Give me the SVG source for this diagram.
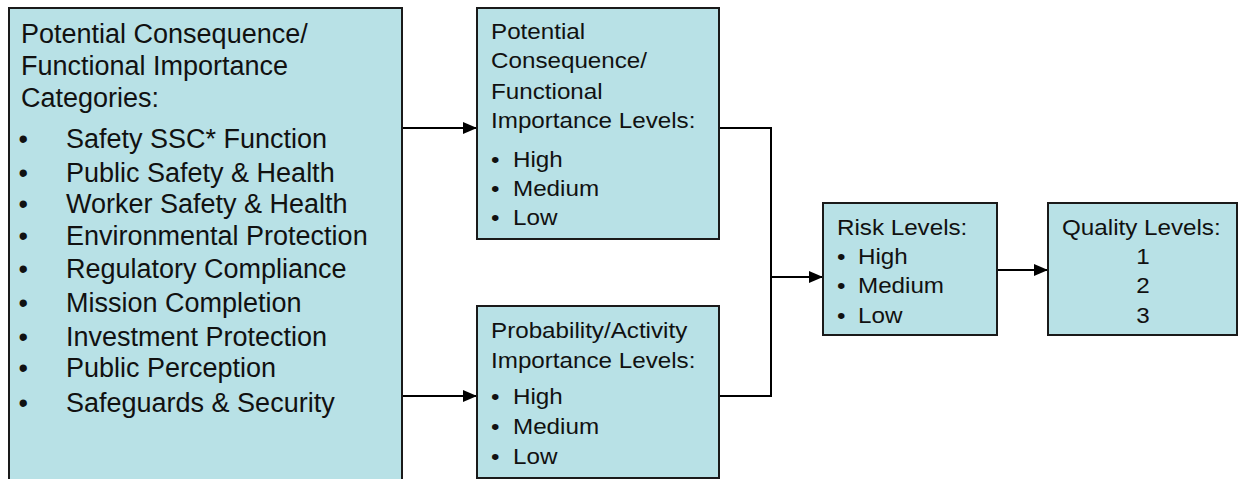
<svg xmlns="http://www.w3.org/2000/svg" width="1239" height="479" viewBox="0 0 1239 479">
<style>
.box{fill:#B8E1E6;stroke:#1a1a1a;stroke-width:2}
.t{font-family:"Liberation Sans",Arial,sans-serif;fill:#111}
.big{font-size:27px}
.sm{font-size:22px}
.c{fill:none;stroke:#000;stroke-width:2}
</style>
<defs>
<marker id="ah" markerWidth="14" markerHeight="12" refX="14" refY="6" orient="auto" markerUnits="userSpaceOnUse">
<path d="M0,0 L14,6 L0,12 Z" fill="#000"/>
</marker>
</defs>
<g id="connectors">
<line class="c" x1="402" y1="128" x2="477" y2="128" marker-end="url(#ah)"/>
<line class="c" x1="402" y1="396" x2="477" y2="396" marker-end="url(#ah)"/>
<polyline class="c" points="719,128 771,128 771,396 719,396"/>
<line class="c" x1="771" y1="277" x2="823" y2="277" marker-end="url(#ah)"/>
<line class="c" x1="997" y1="270" x2="1048" y2="270" marker-end="url(#ah)"/>
</g>
<g id="categories">
<rect class="box" x="9" y="8" width="393" height="490"/>
<g class="t big">
<text x="21" y="43">Potential Consequence/</text>
<text x="21" y="75">Functional Importance</text>
<text x="21" y="107">Categories:</text>
<text x="18.5" y="148">•</text><text x="66" y="148">Safety SSC* Function</text>
<text x="18.5" y="182">•</text><text x="66" y="182">Public Safety &amp; Health</text>
<text x="18.5" y="213">•</text><text x="66" y="213">Worker Safety &amp; Health</text>
<text x="18.5" y="245">•</text><text x="66" y="245">Environmental Protection</text>
<text x="18.5" y="278">•</text><text x="66" y="278">Regulatory Compliance</text>
<text x="18.5" y="312">•</text><text x="66" y="312">Mission Completion</text>
<text x="18.5" y="346">•</text><text x="66" y="346">Investment Protection</text>
<text x="18.5" y="377">•</text><text x="66" y="377">Public Perception</text>
<text x="18.5" y="412">•</text><text x="66" y="412">Safeguards &amp; Security</text>
</g>
</g>
<g id="consequence-levels">
<rect class="box" x="477" y="8" width="242" height="231"/>
<g transform="scale(1.1,1)" class="t sm">
<text x="446.4" y="39">Potential</text>
<text x="446.4" y="68">Consequence/</text>
<text x="446.4" y="99">Functional</text>
<text x="446.4" y="128">Importance Levels:</text>
<text x="446.4" y="167">•</text><text x="466.4" y="167">High</text>
<text x="446.4" y="196">•</text><text x="466.4" y="196">Medium</text>
<text x="446.4" y="225">•</text><text x="466.4" y="225">Low</text>
</g>
</g>
<g id="probability-levels">
<rect class="box" x="477" y="306" width="242" height="172"/>
<g transform="scale(1.1,1)" class="t sm">
<text x="446.4" y="338">Probability/Activity</text>
<text x="446.4" y="368">Importance Levels:</text>
<text x="446.4" y="404">•</text><text x="466.4" y="404">High</text>
<text x="446.4" y="434">•</text><text x="466.4" y="434">Medium</text>
<text x="446.4" y="464">•</text><text x="466.4" y="464">Low</text>
</g>
</g>
<g id="risk-levels">
<rect class="box" x="823" y="203" width="174" height="132"/>
<g transform="scale(1.1,1)" class="t sm">
<text x="760.9" y="235">Risk Levels:</text>
<text x="760.9" y="264">•</text><text x="780" y="264">High</text>
<text x="760.9" y="293">•</text><text x="780" y="293">Medium</text>
<text x="760.9" y="323">•</text><text x="780" y="323">Low</text>
</g>
</g>
<g id="quality-levels">
<rect class="box" x="1048" y="203" width="189" height="132"/>
<g transform="scale(1.1,1)" class="t sm">
<text x="965.5" y="235">Quality Levels:</text>
<text x="1039.1" y="264" text-anchor="middle">1</text>
<text x="1039.1" y="293" text-anchor="middle">2</text>
<text x="1039.1" y="323" text-anchor="middle">3</text>
</g>
</g>
</svg>
